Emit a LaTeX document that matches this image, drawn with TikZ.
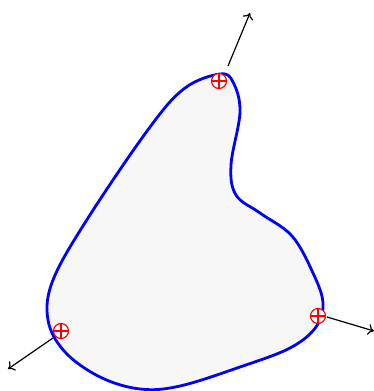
\documentclass[tikz,border=0pt]{standalone}
\usetikzlibrary{arrows.meta}
\tikzset{
  charge/.style={circle, draw=red, line width=1.2pt, fill=white, inner sep=0pt, minimum size=15pt,
    path picture={\draw[red, line width=1.2pt] (path picture bounding box.north) -- (path picture bounding box.south)
      (path picture bounding box.west) -- (path picture bounding box.east);}},
  normal/.style={-{To[length=6pt,width=11pt]}, black, line width=1.2pt}
}
\begin{document}
\begin{tikzpicture}[x=1pt, y=-1pt]
    \useasboundingbox (0,0) rectangle (374,391);
    % Draw region
    \draw[blue, line width=2.8pt, fill=gray!6] plot[smooth cycle, tension=0.6] coordinates {
      (220,74) (233,82) (240,112) (231,165) (236,195) (260,213) (292,236) (313,273)
      (323,303) (316,327) (290,348) (240,367) (180,386) (140,389) (100,377) (65,352)
      (48,320) (53,280) (88,218) (150,127) (185,88)};
    % Draw boundary points
    \node[charge] (p1) at (219,81) {};
    \node[charge] (p2) at (61,331) {};
    \node[charge] (p3) at (318,316) {};
    % Draw outward normals
    \coordinate (s1) at (228,66);
    \coordinate (e1) at (250,13);
    \coordinate (s2) at (53,338);
    \coordinate (e2) at (8,369);
    \coordinate (s3) at (327,317);
    \coordinate (e3) at (374,331);
    \draw[normal] (s1) -- (e1);
    \draw[normal] (s2) -- (e2);
    \draw[normal] (s3) -- (e3);
\end{tikzpicture}
\end{document}
